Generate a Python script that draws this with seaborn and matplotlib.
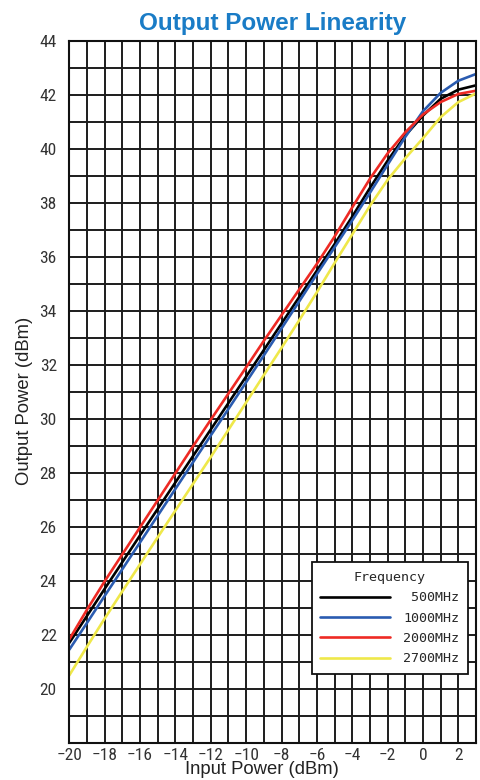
import matplotlib
matplotlib.use("Agg")
import matplotlib.pyplot as plt
import seaborn as sns
import pandas as pd
from matplotlib.ticker import MultipleLocator, FixedLocator

# ---- data ----
input_power = [-20, -19, -18, -17, -16, -15, -14, -13, -12, -11, -10, -9,
               -8, -7, -6, -5, -4, -3, -2, -1, 0, 1, 2, 3]

out_500 = [21.72, 22.72, 23.72, 24.71, 25.70, 26.68, 27.66, 28.64, 29.62, 30.60,
           31.58, 32.56, 33.54, 34.52, 35.50, 36.48, 37.50, 38.56, 39.57, 40.50,
           41.24, 41.86, 42.20, 42.36]
out_1000 = [21.47, 22.46, 23.46, 24.45, 25.44, 26.43, 27.42, 28.41, 29.40, 30.38,
            31.37, 32.36, 33.36, 34.36, 35.37, 36.36, 37.36, 38.38, 39.42, 40.45,
            41.40, 42.08, 42.53, 42.78]
out_2000 = [21.85, 22.95, 24.00, 25.00, 26.00, 27.00, 28.00, 29.00, 29.98, 30.95,
            31.92, 32.90, 33.85, 34.80, 35.75, 36.76, 37.84, 38.90, 39.84, 40.62,
            41.28, 41.74, 42.04, 42.16]
out_2700 = [20.52, 21.58, 22.62, 23.63, 24.63, 25.63, 26.62, 27.61, 28.60, 29.61,
            30.62, 31.63, 32.64, 33.66, 34.70, 35.78, 36.84, 37.90, 38.86, 39.66,
            40.40, 41.18, 41.74, 42.06]

frequencies = ["500MHz", "1000MHz", "2000MHz", "2700MHz"]
legend_labels = [" 500MHz", "1000MHz", "2000MHz", "2700MHz"]
colors = ["#000000", "#2a5bb0", "#ee2a24", "#efe84a"]

x_ticks = [-20, -18, -16, -14, -12, -10, -8, -6, -4, -2, 0, 2]
y_ticks = [20, 22, 24, 26, 28, 30, 32, 34, 36, 38, 40, 42, 44]

# ---- build long table ----
series = [out_500, out_1000, out_2000, out_2700]
rows = []
for lab, vals in zip(legend_labels, series):
    for xv, yv in zip(input_power, vals):
        rows.append({"Input": xv, "Output": yv, "Frequency": lab})
df = pd.DataFrame(rows)

sns.set_style("white")
plt.rcParams["font.family"] = ["Liberation Sans", "DejaVu Sans"]

fig = plt.figure(figsize=(4.8, 7.8), dpi=100)
ax = fig.add_axes([0.1444, 0.047, 0.8473, 0.9004])

sns.lineplot(data=df, x="Input", y="Output", hue="Frequency",
             hue_order=legend_labels, palette=dict(zip(legend_labels, colors)),
             linewidth=1.9, ax=ax, legend=True, sort=True)

ax.set_xlim(-20, 3)
ax.set_ylim(18, 44)
ax.xaxis.set_major_locator(FixedLocator(x_ticks))
ax.yaxis.set_major_locator(FixedLocator(y_ticks))
ax.xaxis.set_minor_locator(MultipleLocator(1))
ax.yaxis.set_minor_locator(MultipleLocator(1))
ax.set_xticklabels([f"\u2212{abs(v)}" if v < 0 else str(v) for v in x_ticks])
ax.set_yticklabels([str(v) for v in y_ticks])
ax.grid(True, which="both", color="#1c1c1c", linewidth=1.4)
ax.set_axisbelow(True)
for sp in ax.spines.values():
    sp.set_color("#111111")
    sp.set_linewidth(1.5)
    sp.set_visible(True)

tick_font = ["Liberation Sans Narrow", "DejaVu Sans Condensed", "Roboto Condensed",
             "Liberation Sans", "DejaVu Sans"]
ax.tick_params(axis="both", which="both", length=0)
ax.tick_params(axis="y", pad=9)
ax.tick_params(axis="x", pad=3)
for lbl in ax.get_xticklabels() + ax.get_yticklabels():
    lbl.set_family(tick_font)
    lbl.set_fontsize(12.5)
    lbl.set_color("#333333")

ax.set_xlabel("Input Power (dBm)", fontsize=13.3, color="#222222")
ax.xaxis.set_label_coords(0.4726, -0.0255)
ax.set_ylabel("Output Power (dBm)", fontsize=13.3, color="#222222")
ax.yaxis.set_label_coords(-0.089, 0.487)
ax.set_title("Output Power Linearity", fontsize=17.5, fontweight="bold",
             color="#1a7cc6", pad=8)

handles, labels = ax.get_legend_handles_labels()
leg = ax.legend(handles, labels, title="Frequency", loc="lower right",
                bbox_to_anchor=(0.9796, 0.0987), borderaxespad=0,
                prop={"family": "DejaVu Sans Mono", "size": 9.6},
                title_fontproperties={"family": "DejaVu Sans Mono", "size": 9.6},
                handlelength=5.2, handletextpad=1.0, labelspacing=0.55,
                borderpad=0.65, fancybox=False, framealpha=1, edgecolor="#111111")
leg.get_frame().set_linewidth(1.3)
for h in leg.get_lines():
    h.set_linewidth(1.9)

fig.savefig("out.png", dpi=100)
